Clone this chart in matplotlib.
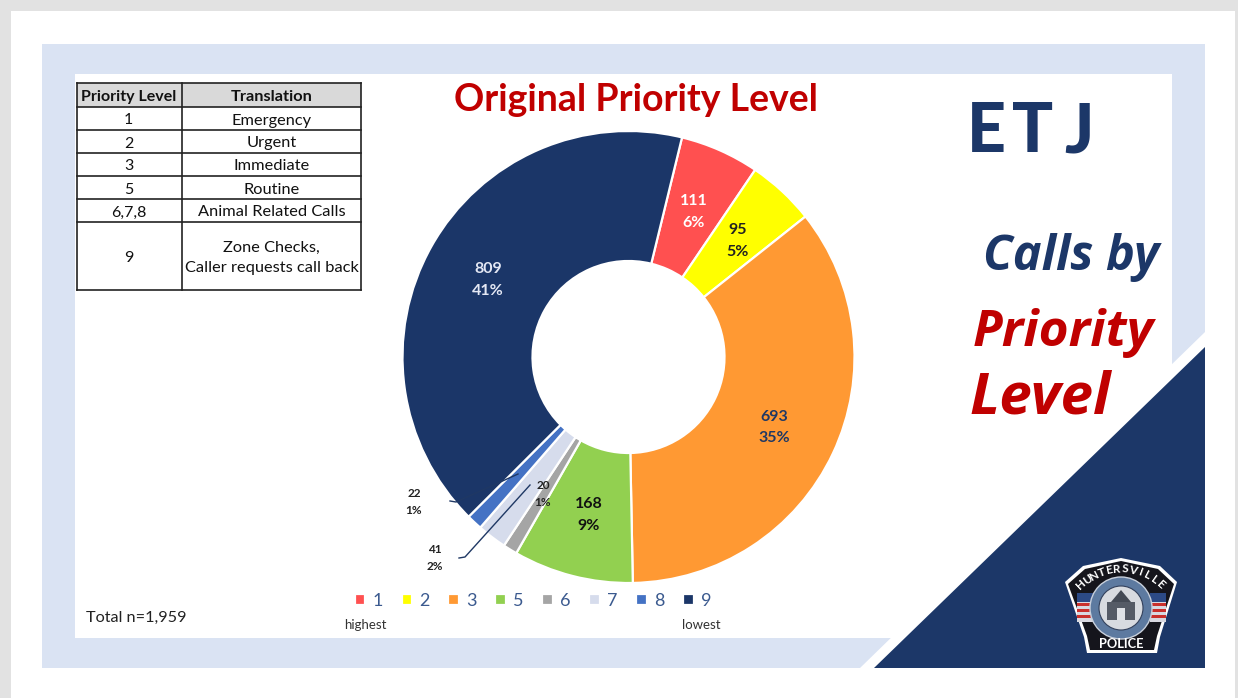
import numpy as np
import matplotlib
matplotlib.use('Agg')
import matplotlib.pyplot as plt
from matplotlib.patches import Polygon, Rectangle, Circle

plt.rcParams['font.family'] = ['Lato', 'DejaVu Sans']

# data
levels = ['1', '2', '3', '5', '6', '7', '8', '9']
counts = [111, 95, 693, 168, 20, 41, 22, 809]
percents = ['6%', '5%', '35%', '9%', '1%', '2%', '1%', '41%']
colors = ['#ff5050', '#ffff00', '#ff9933', '#92d050', '#a5a5a5', '#d6dcec', '#4472c4', '#1b3668']
label_colors = ['white', '#222222', '#1f3864', '#111111', '#222222', '#222222', '#222222', '#e4e8f4']

table_levels = ['Priority Level', '1', '2', '3', '5', '6,7,8', '9']
table_names = ['Translation', 'Emergency', 'Urgent', 'Immediate', 'Routine',
               'Animal Related Calls', 'Zone Checks,\nCaller requests call back']

navy = '#1c3768'
red = '#c00000'
lav = '#dae3f3'

W, H = 1238, 698
fig = plt.figure(figsize=(W / 100, H / 100), dpi=100)
ax = fig.add_axes([0, 0, 1, 1])


def Y(y):
    # picture pixels count from the top
    return H - y


def poly(pts, **kw):
    ax.add_patch(Polygon([(x, Y(y)) for x, y in pts], closed=True, lw=0, **kw))


# page and frame
poly([(0, 0), (W, 0), (W, H), (0, H)], fc='#e2e2e2', zorder=0)
poly([(11, 11), (1235, 11), (1235, H), (11, H)], fc='white', zorder=0)
poly([(42, 44), (1205, 44), (1205, 668), (42, 668)], fc=lav, zorder=1)
poly([(75, 74), (1172, 74), (1172, 638), (75, 638)], fc='white', zorder=1)
poly([(1205, 332), (860, 668), (1205, 668)], fc='white', zorder=1)
poly([(1205, 347), (874, 668), (1205, 668)], fc=navy, zorder=1)

# donut
wedges, _ = ax.pie(counts, colors=colors, startangle=76.3, counterclock=False,
                   center=(628.5, Y(357)), radius=226, frame=True,
                   wedgeprops=dict(width=130, edgecolor='white', linewidth=1.6, zorder=2))

for i, w in enumerate(wedges):
    if counts[i] < 50:
        continue
    mid = np.deg2rad((w.theta1 + w.theta2) / 2)
    x = 628.5 + 161 * np.cos(mid)
    y = Y(357) + 161 * np.sin(mid) - 2
    ax.text(x, y, f'{counts[i]}\n{percents[i]}', ha='center', va='center', fontsize=11.5,
            fontweight='bold', color=label_colors[i], linespacing=1.7, zorder=5)

# small slices, labels pulled outside
small = {4: (543, 494), 5: (435, 558), 6: (414, 502)}
for i, (x, y) in small.items():
    ax.text(x, Y(y), f'{counts[i]}\n{percents[i]}', ha='center', va='center', fontsize=8.5,
            fontweight='bold', color=label_colors[i], linespacing=1.6, zorder=5)
for xs, ys in [([459, 465, 530], [558, 557, 485]), ([450, 456, 518], [501, 502, 474])]:
    ax.plot(xs, [Y(v) for v in ys], color='#1f3864', lw=1, zorder=4)

# legend
ax.legend(wedges, levels, ncol=8, frameon=False, fontsize=13, labelcolor='#3b5a8f',
          loc='center', bbox_to_anchor=(533 / W, 1 - 601 / H), bbox_transform=fig.transFigure,
          handlelength=0.58, handleheight=0.58, handletextpad=0.4, columnspacing=1.04)
ax.text(365, Y(625), 'highest', ha='center', va='center', fontsize=9.5, color='#333333')
ax.text(701, Y(625), 'lowest', ha='center', va='center', fontsize=9.5, color='#333333')
ax.text(86, Y(618), 'Total n=1,959', ha='left', va='center', fontsize=11.7, color='#222222')

# table
col_x = [77, 182, 361]
row_y = [83, 107, 130, 153, 176, 199, 222, 290]
ax.add_patch(Rectangle((col_x[0], Y(row_y[1])), col_x[2] - col_x[0], row_y[1] - row_y[0],
                       fc='#d9d9d9', lw=0, zorder=2))
for y in row_y:
    ax.plot([col_x[0], col_x[2]], [Y(y), Y(y)], color='#222222', lw=1.2, zorder=3)
for x in col_x:
    ax.plot([x, x], [Y(row_y[0]), Y(row_y[-1])], color='#222222', lw=1.2, zorder=3)
for r in range(len(table_levels)):
    mid_y = Y((row_y[r] + row_y[r + 1]) / 2 + 2)
    fw = 'bold' if r == 0 else 'normal'
    ax.text((col_x[0] + col_x[1]) / 2 - 1, mid_y, table_levels[r], ha='center', va='center',
            fontsize=11.5, fontweight=fw, color='#111111', zorder=4)
    ax.text((col_x[1] + col_x[2]) / 2, mid_y, table_names[r], ha='center', va='center',
            fontsize=11.8, fontweight=fw, color='#111111', linespacing=1.6, zorder=4)

# titles
ax.text(636, Y(100), 'Original Priority Level', ha='center', va='center', fontsize=27,
        fontweight='bold', color=red)
for ch, x in zip('ETJ', [986, 1033, 1079]):
    ax.text(x, Y(133), ch, ha='center', va='center', fontsize=49, fontweight='black', color=navy)
ax.text(1071, Y(258), 'Calls by', ha='center', va='center', fontsize=35, fontstyle='italic',
        fontweight='bold', color=navy, family='Open Sans')
ax.text(1063, Y(333), 'Priority', ha='center', va='center', fontsize=37, fontstyle='italic',
        fontweight='bold', color=red, family='Open Sans')
ax.text(1040, Y(398), 'Level', ha='center', va='center', fontsize=42, fontstyle='italic',
        fontweight='bold', color=red, family='Open Sans')

# police badge
badge = [(1121, 558), (1160, 566), (1177, 582), (1160, 637), (1157, 653), (1087, 653),
         (1084, 637), (1065, 582), (1083, 566)]
poly(badge, fc='white', zorder=3)
inner = [(1121, 561), (1158, 569), (1174, 584), (1157, 636), (1154, 650), (1090, 650),
         (1087, 636), (1068, 584), (1085, 569)]
poly(inner, fc='#15151c', zorder=3)
for fx in [1085, 1158]:
    poly([(fx - 8, 593), (fx + 8, 593), (fx + 8, 622), (fx - 8, 622)], fc='#d8d8e0', zorder=3)
    for k in range(3):
        poly([(fx - 8, 603 + 6 * k), (fx + 8, 603 + 6 * k), (fx + 8, 606 + 6 * k), (fx - 8, 606 + 6 * k)],
             fc='#c9302c', zorder=3)
    poly([(fx - 8, 593), (fx + 8, 593), (fx + 8, 602), (fx - 8, 602)], fc='#2c4a86', zorder=3)
ax.add_patch(Circle((1121, Y(608)), 31, fc='#5d7aa0', ec='#c8d0dc', lw=1, zorder=4))
ax.add_patch(Circle((1121, Y(608)), 22, fc='#d8dbe0', ec='#33415c', lw=0.8, zorder=4))
poly([(1121, 590), (1131, 602), (1111, 602)], fc='#444a55', zorder=5)
poly([(1107, 602), (1135, 602), (1135, 620), (1107, 620)], fc='#555b66', zorder=5)
poly([(1117, 608), (1125, 608), (1125, 620), (1117, 620)], fc='#dfe2e6', zorder=5)
word = 'HUNTERSVILLE'
angs = np.linspace(133, 47, len(word))
for ch, a in zip(word, angs):
    rad = np.deg2rad(a)
    ax.text(1121 + 58 * np.cos(rad), Y(627) + 58 * np.sin(rad), ch, rotation=a - 90,
            ha='center', va='center', fontsize=8.5, fontweight='bold', color='white', zorder=6)
ax.text(1121, Y(644), 'POLICE', ha='center', va='center', fontsize=9.3, fontweight='bold',
        color='white', zorder=6)

ax.set_xlim(0, W)
ax.set_ylim(0, H)
ax.set_aspect('auto')
ax.axis('off')

fig.savefig('out.png', dpi=100)
